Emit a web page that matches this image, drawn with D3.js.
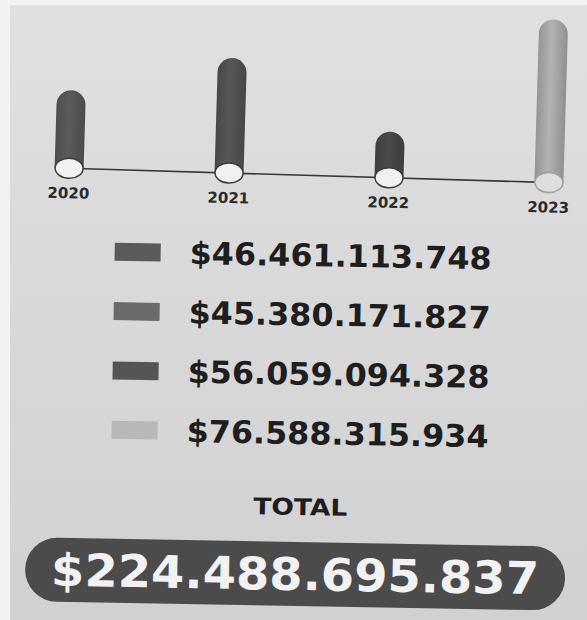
<!DOCTYPE html>
<html>
<head>
<meta charset="utf-8">
<script src="https://cdn.jsdelivr.net/npm/d3@7"></script>
<style>
  html, body { margin: 0; padding: 0; background: #fff; }
  svg { display: block; font-family: "DejaVu Sans", Verdana, sans-serif; }
</style>
</head>
<body>
<div id="chart"></div>
<script>
var years = ["2020", "2021", "2022", "2023"];
var amounts = [46461113748, 45380171827, 56059094328, 76588315934];
// bar heights as drawn in the picture (they do not follow the amounts)
var barLevels = [78, 115, 46, 163];
var barColors = ["#575757", "#525252", "#474747", "#a9a9a9"];
var swatchColors = ["#5a5a5a", "#6b6b6b", "#555555", "#b8b8b8"];
var totalLabel = "TOTAL";

var width = 587, height = 620;
var total = d3.sum(amounts);

var locale = d3.formatLocale({decimal: ",", thousands: ".", grouping: [3], currency: ["$", ""]});
var money = locale.format("$,.0f");

var svg = d3.select("#chart")
  .append("svg")
    .attr("width", width)
    .attr("height", height);

var defs = svg.append("defs");
var bg = defs.append("linearGradient")
  .attr("id", "bg").attr("x1", 0).attr("y1", 0).attr("x2", 0).attr("y2", 1);
bg.append("stop").attr("offset", "0%").attr("stop-color", "#e0e0e0");
bg.append("stop").attr("offset", "100%").attr("stop-color", "#d1d1d1");

// cylinder shading for each bar
barColors.forEach(function(c, i) {
  var g = defs.append("linearGradient")
    .attr("id", "cyl" + i).attr("x1", 0).attr("x2", 1).attr("y1", 0).attr("y2", 0);
  g.append("stop").attr("offset", "0%").attr("stop-color", d3.color(c).darker(0.35));
  g.append("stop").attr("offset", "45%").attr("stop-color", d3.color(c).brighter(0.15));
  g.append("stop").attr("offset", "100%").attr("stop-color", d3.color(c).darker(0.45));
});

// background (scanned paper look)
svg.append("rect")
  .attr("width", width).attr("height", height)
  .attr("fill", "url(#bg)");
svg.append("rect")
  .attr("width", 10).attr("height", height)
  .attr("fill", "#f2f2f2");
svg.append("rect")
  .attr("width", width).attr("height", 5)
  .attr("fill", "#f2f2f2");

// ---- top: cylinder bars (tilted a bit in the scan) ----
var bars = svg.append("g")
  .attr("transform", "rotate(1.7,293,310)");

var baseY = 175;
var x = d3.scalePoint().domain(years).range([65, 545]);
var h = d3.scaleLinear().domain([0, d3.max(barLevels)]).range([0, 163]);
var barW = 29;

bars.append("line")
  .attr("x1", x(years[0])).attr("x2", x(years[3]) - barW / 2)
  .attr("y1", baseY).attr("y2", baseY)
  .attr("stroke", "#3a3a3a")
  .attr("stroke-width", 1.6);

bars.selectAll("path.bar")
  .data(years)
  .enter()
  .append("path")
    .attr("class", "bar")
    .attr("fill", function(d, i) {return "url(#cyl" + i + ")";})
    .attr("d", function(d, i) {
      var cx = x(d), top = baseY - h(barLevels[i]), r = barW / 2;
      return "M" + (cx - r) + "," + baseY +
        "V" + (top + r) +
        "A" + r + "," + r + " 0 0 1 " + (cx + r) + "," + (top + r) +
        "V" + baseY + "Z";
    });

bars.selectAll("ellipse")
  .data(years)
  .enter()
  .append("ellipse")
    .attr("cx", function(d) {return x(d);})
    .attr("cy", baseY)
    .attr("rx", 14)
    .attr("ry", 10)
    .attr("fill", function(d, i) {return i == 3 ? "#dedede" : "#f1f1f1";})
    .attr("stroke", function(d, i) {return i == 3 ? "#a0a0a0" : "#3c3c3c";})
    .attr("stroke-width", 1.5);

bars.selectAll("text.year")
  .data(years)
  .enter()
  .append("text")
    .attr("class", "year")
    .attr("x", function(d) {return x(d);})
    .attr("y", baseY + 30)
    .attr("text-anchor", "middle")
    .attr("font-size", 15)
    .attr("font-weight", "bold")
    .attr("fill", "#2a2a2a")
    .text(function(d) {return d;});

// ---- legend + total ----
var lower = svg.append("g")
  .attr("transform", "rotate(1,300,350)");

var row = d3.scalePoint().domain(years).range([266, 444]);

lower.selectAll("rect.swatch")
  .data(years)
  .enter()
  .append("rect")
    .attr("class", "swatch")
    .attr("x", 113)
    .attr("y", function(d) {return row(d) - 20;})
    .attr("width", 46)
    .attr("height", 18)
    .attr("fill", function(d, i) {return swatchColors[i];});

lower.selectAll("text.amount")
  .data(amounts)
  .enter()
  .append("text")
    .attr("class", "amount")
    .attr("x", 188)
    .attr("y", function(d, i) {return row(years[i]);})
    .attr("font-size", 31)
    .attr("font-weight", "bold")
    .attr("fill", "#1e1e1e")
    .attr("textLength", 302)
    .attr("lengthAdjust", "spacingAndGlyphs")
    .text(function(d) {return money(d);});

lower.append("text")
  .attr("x", 303)
  .attr("y", 515)
  .attr("text-anchor", "middle")
  .attr("font-size", 23)
  .attr("font-weight", "bold")
  .attr("fill", "#1e1e1e")
  .attr("textLength", 94)
  .attr("lengthAdjust", "spacingAndGlyphs")
  .text(totalLabel);

lower.append("rect")
  .attr("x", 29).attr("y", 542)
  .attr("width", 540).attr("height", 64)
  .attr("rx", 32)
  .attr("fill", "#4b4b4b");

lower.append("text")
  .attr("x", 299)
  .attr("y", 590)
  .attr("text-anchor", "middle")
  .attr("font-size", 45)
  .attr("font-weight", "bold")
  .attr("fill", "#f2f2f2")
  .attr("textLength", 488)
  .attr("lengthAdjust", "spacingAndGlyphs")
  .text(money(total));
</script>
</body>
</html>
